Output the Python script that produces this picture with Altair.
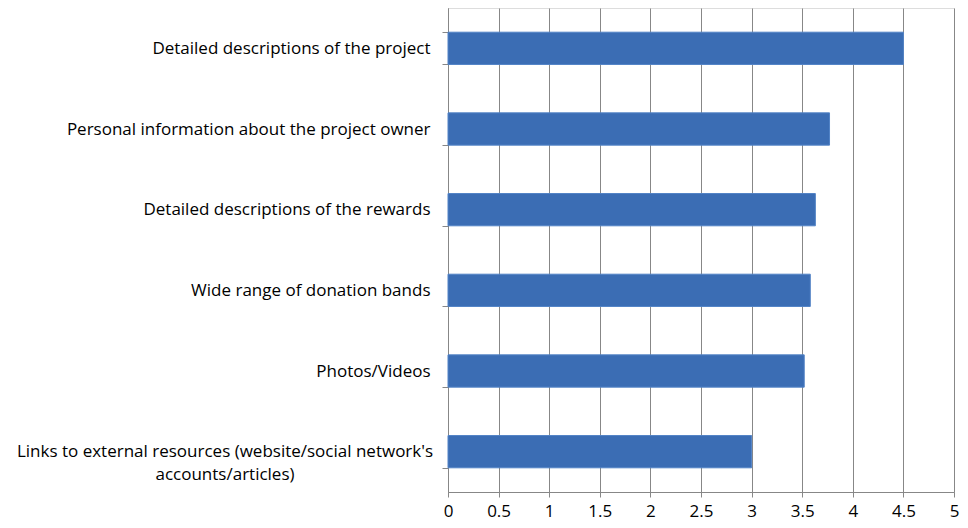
import altair as alt
import pandas as pd

categories = [
    "Detailed descriptions of the project",
    "Personal information about the project owner",
    "Detailed descriptions of the rewards",
    "Wide range of donation bands",
    "Photos/Videos",
    "Links to external resources (website/social network's accounts/articles)",
]
values = [4.5, 3.77, 3.63, 3.58, 3.52, 3.0]
long_label_lines = ["Links to external resources (website/social network's", "accounts/articles)"]
x_ticks = [0, 0.5, 1, 1.5, 2, 2.5, 3, 3.5, 4, 4.5, 5]

df = pd.DataFrame({"category": categories, "value": values})
long_df = pd.DataFrame({"category": [categories[-1]], "lines": [long_label_lines]})

FONT = "Open Sans"
GRID = "#878787"

y_enc = alt.Y(
    "category:N",
    sort=categories,
    scale=alt.Scale(paddingInner=0.6, paddingOuter=0.3),
    axis=alt.Axis(
        title=None,
        tickBand="extent",
        tickSize=6,
        tickColor=GRID,
        domainColor=GRID,
        grid=False,
        labelFont=FONT,
        labelFontSize=17,
        labelColor="#000000",
        labelPadding=12,
        labelLimit=0,
        labelExpr="datum.value == '" + categories[-1].replace("'", "\\'") + "' ? '' : datum.value",
    ),
)

bars = alt.Chart(df).mark_bar(color="#3b6db4", stroke="#5283c6", strokeWidth=1).encode(
    x=alt.X(
        "value:Q",
        scale=alt.Scale(domain=[0, 5], nice=False),
        axis=alt.Axis(
            title=None,
            values=x_ticks,
            format="~g",
            grid=True,
            gridColor=GRID,
            gridWidth=1,
            domainColor=GRID,
            tickColor=GRID,
            tickSize=5,
            labelFont=FONT,
            labelFontSize=17,
            labelColor="#000000",
            labelPadding=6,
            labelFlush=False,
        ),
    ),
    y=y_enc,
)

long_text = alt.Chart(long_df).mark_text(
    font=FONT, fontSize=17, align="center", baseline="middle", lineHeight=23, color="#000000"
).encode(
    y=alt.Y("category:N", sort=categories),
    x=alt.value(-223),
    text="lines",
)

chart = alt.layer(bars, long_text).properties(
    width=506,
    height=484,
    autosize=alt.AutoSizeParams(type="none"),
    padding={"left": 440, "top": 0, "right": 6, "bottom": 28},
).configure_view(stroke=None).configure(background="white")

chart.save("out.html", embed_options={"renderer": "svg", "actions": False})
